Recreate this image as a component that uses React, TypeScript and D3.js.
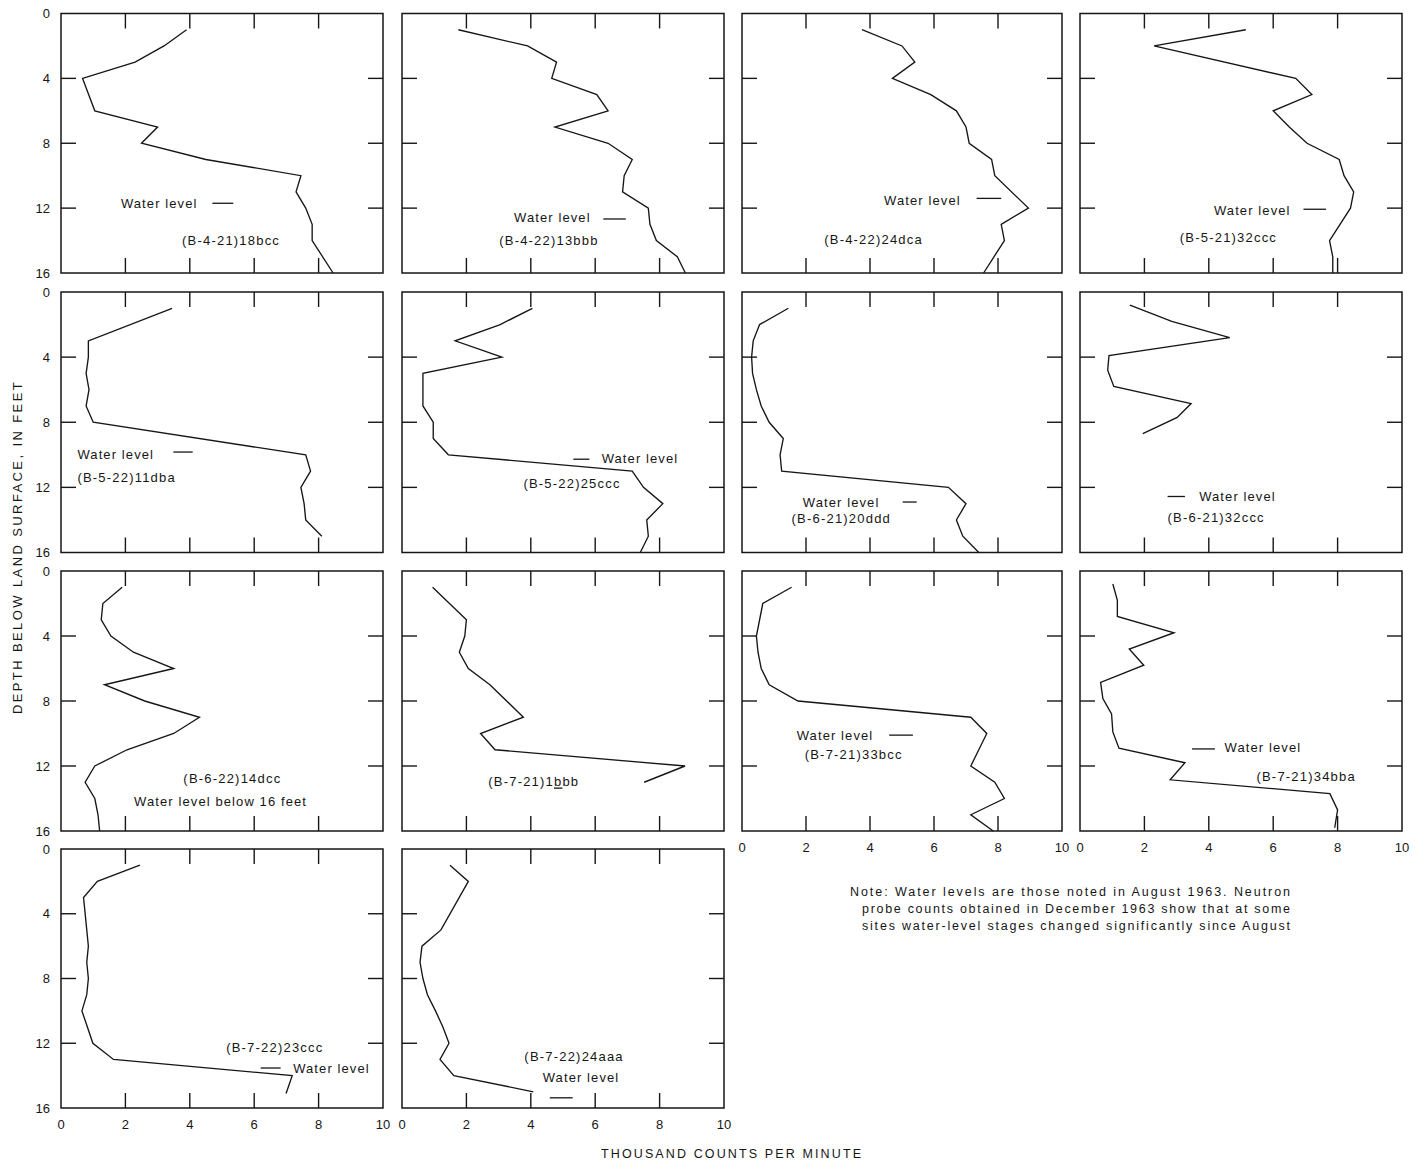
import React from "react";
import * as d3 from "d3";

// ---------- DATA (depth in feet, thousand counts per minute) ----------
const siteNames = [
  "(B-4-21)18bcc", "(B-4-22)13bbb", "(B-4-22)24dca", "(B-5-21)32ccc",
  "(B-5-22)11dba", "(B-5-22)25ccc", "(B-6-21)20ddd", "(B-6-21)32ccc",
  "(B-6-22)14dcc", "(B-7-21)1bbb", "(B-7-21)33bcc", "(B-7-21)34bba",
  "(B-7-22)23ccc", "(B-7-22)24aaa",
];

const depthP1 = [1, 2, 3, 4, 6, 7, 8, 9, 10, 11, 12, 13, 14, 16];
const countsP1 = [3.9, 3.2, 2.3, 0.67, 1.05, 3.0, 2.5, 4.5, 7.45, 7.3, 7.6, 7.8, 7.8, 8.45];

const depthP2 = [1, 2, 3, 4, 5, 6, 7, 8, 9, 10, 11, 12, 13, 14, 15, 16];
const countsP2 = [1.75, 3.9, 4.8, 4.65, 6.05, 6.4, 4.75, 6.4, 7.15, 6.9, 6.85, 7.65, 7.7, 7.9, 8.55, 8.8];

const depthP3 = [1, 2, 3, 4, 5, 6, 7, 8, 9, 10, 12, 13, 14, 16];
const countsP3 = [3.75, 5.0, 5.4, 4.7, 5.9, 6.7, 7.0, 7.1, 7.8, 7.9, 8.95, 8.1, 8.2, 7.55];

const depthP4 = [1, 2, 4, 5, 6, 7, 8, 9, 10, 11, 12, 14, 15, 16];
const countsP4 = [5.15, 2.3, 6.7, 7.2, 6.0, 6.5, 7.05, 8.05, 8.2, 8.5, 8.4, 7.75, 7.85, 7.85];

const depthP5 = [1, 3, 4, 5, 6, 7, 8, 10, 11, 12, 13, 14, 15];
const countsP5 = [3.45, 0.85, 0.85, 0.78, 0.87, 0.78, 1.0, 7.6, 7.75, 7.45, 7.55, 7.6, 8.1];

const depthP6 = [1, 2, 3, 4, 5, 6, 7, 8, 9, 10, 11, 12, 13, 14, 15, 16];
const countsP6 = [4.05, 3.05, 1.65, 3.1, 0.65, 0.65, 0.65, 0.97, 0.97, 1.44, 7.15, 7.5, 8.1, 7.6, 7.65, 7.4];

const depthP7 = [1, 2, 3, 4, 5, 6, 7, 8, 9, 10, 11, 12, 13, 14, 15, 16];
const countsP7 = [1.45, 0.55, 0.35, 0.3, 0.33, 0.45, 0.6, 0.85, 1.29, 1.19, 1.24, 6.45, 7.0, 6.7, 6.9, 7.4];

const depthP8 = [0.8, 1.8, 2.8, 3.9, 4.8, 5.8, 6.85, 7.7, 8.7];
const countsP8 = [1.55, 2.85, 4.65, 0.9, 0.86, 1.05, 3.45, 3.02, 1.95];

const depthP9 = [1, 2, 3, 4, 5, 6, 7, 8, 9, 10, 11, 12, 13, 14, 15, 16];
const countsP9 = [1.9, 1.3, 1.25, 1.55, 2.25, 3.5, 1.35, 2.6, 4.3, 3.5, 2.05, 1.05, 0.75, 1.05, 1.15, 1.2];

const depthP10 = [1, 3, 4, 5, 6, 7, 9, 10, 11, 12, 13];
const countsP10 = [0.95, 2.0, 1.95, 1.78, 2.06, 2.73, 3.77, 2.44, 2.89, 8.79, 7.52];

const depthP11 = [1, 2, 3, 4, 5, 6, 7, 8, 9, 10, 11, 12, 13, 14, 15, 16];
const countsP11 = [1.55, 0.65, 0.55, 0.45, 0.5, 0.6, 0.85, 1.75, 7.15, 7.65, 7.4, 7.15, 7.9, 8.2, 7.15, 7.85];

const depthP12 = [0.8, 1.8, 2.8, 3.8, 4.8, 5.8, 6.85, 7.85, 8.8, 9.9, 10.9, 11.8, 12.85, 13.7, 14.7, 15.8];
const countsP12 = [1.02, 1.16, 1.16, 2.92, 1.53, 1.98, 0.64, 0.71, 0.98, 1.02, 1.21, 3.26, 2.8, 7.76, 8.0, 7.91];

const depthP13 = [1, 2, 3, 4, 5, 6, 7, 8, 9, 10, 12, 13, 14, 15.1];
const countsP13 = [2.45, 1.13, 0.7, 0.75, 0.8, 0.85, 0.8, 0.85, 0.8, 0.65, 0.99, 1.63, 7.18, 6.99];

const depthP14 = [1, 2, 5, 6, 7, 8, 9, 10, 11, 12, 13, 14, 15];
const countsP14 = [1.49, 2.06, 1.21, 0.62, 0.56, 0.65, 0.79, 1.04, 1.27, 1.46, 1.18, 1.61, 4.08];

// water level (feet below land surface); null = not shown in panel
const waterLevels = [11.7, 12.67, 11.4, 12.07, 9.83, 10.27, 12.9, 12.56, null, null, 10.1, 10.95, 13.53, 15.37];

const xTickValues = [0, 2, 4, 6, 8, 10];
const xTickLabels = ["0", "2", "4", "6", "8", "10"];
const depthTickValues = [0, 4, 8, 12, 16];
const depthTickLabels = ["0", "4", "8", "12", "16"];

const yTitle = "DEPTH BELOW LAND SURFACE, IN FEET";
const xTitle = "THOUSAND COUNTS PER MINUTE";
const noteLines = [
  "Note:  Water levels are those noted in August 1963.  Neutron",
  "probe counts obtained in December 1963 show that at some",
  "sites water-level stages changed significantly since August",
];

// ---------- LAYOUT ----------
const colX: [number, number][] = [[61, 383], [402, 724], [742, 1062], [1080, 1402]];
const rowY: [number, number][] = [[13.5, 273], [292, 552.5], [571, 831], [849, 1108]];

type Panel = {
  depths: number[];
  counts: number[];
  col: number;
  row: number;
  marker?: [number, number];
  waterText?: { x: number; d: number; text: string };
  siteText: { x: number; d: number };
  showX?: boolean;
};

const WL = "Water level";
const panels: Panel[] = [
  { depths: depthP1, counts: countsP1, col: 0, row: 0, marker: [4.7, 5.35], waterText: { x: 1.86, d: 12.02, text: WL }, siteText: { x: 3.76, d: 14.27 } },
  { depths: depthP2, counts: countsP2, col: 1, row: 0, marker: [6.25, 6.95], waterText: { x: 3.48, d: 12.85, text: WL }, siteText: { x: 3.02, d: 14.27 } },
  { depths: depthP3, counts: countsP3, col: 2, row: 0, marker: [7.33, 8.1], waterText: { x: 4.44, d: 11.78, text: WL }, siteText: { x: 2.57, d: 14.24 } },
  { depths: depthP4, counts: countsP4, col: 3, row: 0, marker: [6.94, 7.64], waterText: { x: 4.16, d: 12.45, text: WL }, siteText: { x: 3.1, d: 14.09 } },
  { depths: depthP5, counts: countsP5, col: 0, row: 1, marker: [3.49, 4.09], waterText: { x: 0.51, d: 10.28, text: WL }, siteText: { x: 0.51, d: 11.7 } },
  { depths: depthP6, counts: countsP6, col: 1, row: 1, marker: [5.32, 5.82], waterText: { x: 6.2, d: 10.5, text: WL }, siteText: { x: 3.77, d: 12.01 } },
  { depths: depthP7, counts: countsP7, col: 2, row: 1, marker: [5.02, 5.46], waterText: { x: 1.9, d: 13.2, text: WL }, siteText: { x: 1.55, d: 14.19 } },
  { depths: depthP8, counts: countsP8, col: 3, row: 1, marker: [2.72, 3.26], waterText: { x: 3.7, d: 12.83, text: WL }, siteText: { x: 2.72, d: 14.13 } },
  { depths: depthP9, counts: countsP9, col: 0, row: 2, waterText: { x: 2.27, d: 14.44, text: "Water level below 16 feet" }, siteText: { x: 3.8, d: 13.05 } },
  { depths: depthP10, counts: countsP10, col: 1, row: 2, siteText: { x: 2.68, d: 13.26 } },
  { depths: depthP11, counts: countsP11, col: 2, row: 2, marker: [4.6, 5.34], waterText: { x: 1.71, d: 10.37, text: WL }, siteText: { x: 1.96, d: 11.55 }, showX: true },
  { depths: depthP12, counts: countsP12, col: 3, row: 2, marker: [3.48, 4.19], waterText: { x: 4.49, d: 11.13, text: WL }, siteText: { x: 5.48, d: 12.92 }, showX: true },
  { depths: depthP13, counts: countsP13, col: 0, row: 3, marker: [6.2, 6.82], waterText: { x: 7.21, d: 13.82, text: WL }, siteText: { x: 5.13, d: 12.55 }, showX: true },
  { depths: depthP14, counts: countsP14, col: 1, row: 3, marker: [4.59, 5.3], waterText: { x: 4.37, d: 14.38, text: WL }, siteText: { x: 3.8, d: 13.1 }, showX: true },
];

const FONT = "'Liberation Sans', Arial, Helvetica, sans-serif";
const INK = "#161616";
const TICK = 15;

function SiteLabel({ name, x, y }: { name: string; x: number; y: number }) {
  if (name === "(B-7-21)1bbb") {
    return (
      <text x={x} y={y} fontSize={13} fill={INK} style={{ letterSpacing: "1.2px" }}>
        {"(B-7-21)1"}
        <tspan textDecoration="underline">b</tspan>
        {"bb"}
      </text>
    );
  }
  return (
    <text x={x} y={y} fontSize={13} fill={INK} style={{ letterSpacing: "1.2px" }}>
      {name}
    </text>
  );
}

function PanelView({ p, i }: { p: Panel; i: number }) {
  const [x0, x1] = colX[p.col];
  const [y0, y1] = rowY[p.row];
  const x = d3.scaleLinear().domain([0, 10]).range([x0, x1]);
  const y = d3.scaleLinear().domain([0, 16]).range([y0, y1]);
  const pts: [number, number][] = p.depths.map((d, k) => [d, p.counts[k]]);
  const line = d3
    .line<[number, number]>()
    .x((d) => x(d[1]))
    .y((d) => y(d[0]));
  const wl = waterLevels[i];
  const innerX = xTickValues.filter((v) => v > 0 && v < 10);
  const innerY = depthTickValues.filter((v) => v > 0 && v < 16);
  return (
    <g>
      <rect x={x0} y={y0} width={x1 - x0} height={y1 - y0} fill="none" stroke={INK} strokeWidth={1.5} />
      {innerX.map((v) => (
        <g key={"xt" + v}>
          <line x1={x(v)} x2={x(v)} y1={y0} y2={y0 + TICK} stroke={INK} strokeWidth={1.4} />
          <line x1={x(v)} x2={x(v)} y1={y1} y2={y1 - TICK} stroke={INK} strokeWidth={1.4} />
        </g>
      ))}
      {innerY.map((v) => (
        <g key={"yt" + v}>
          <line x1={x0} x2={x0 + TICK} y1={y(v)} y2={y(v)} stroke={INK} strokeWidth={1.4} />
          <line x1={x1} x2={x1 - TICK} y1={y(v)} y2={y(v)} stroke={INK} strokeWidth={1.4} />
        </g>
      ))}
      <path d={line(pts) || ""} fill="none" stroke={INK} strokeWidth={1.35} strokeLinejoin="miter" />
      {wl !== null && p.marker && (
        <line x1={x(p.marker[0])} x2={x(p.marker[1])} y1={y(wl)} y2={y(wl)} stroke={INK} strokeWidth={1.3} />
      )}
      {p.waterText && (
        <text x={x(p.waterText.x)} y={y(p.waterText.d)} fontSize={13} fill={INK} style={{ letterSpacing: "1.1px" }}>
          {p.waterText.text}
        </text>
      )}
      <SiteLabel name={siteNames[i]} x={x(p.siteText.x)} y={y(p.siteText.d)} />
      {p.col === 0 &&
        depthTickValues.map((v, k) => (
          <text key={"yl" + v} x={x0 - 11} y={y(v)} dy="0.36em" textAnchor="end" fontSize={13} fill={INK}>
            {depthTickLabels[k]}
          </text>
        ))}
      {p.showX &&
        xTickValues.map((v, k) => (
          <text key={"xl" + v} x={x(v)} y={y1 + 21} textAnchor="middle" fontSize={13} fill={INK}>
            {xTickLabels[k]}
          </text>
        ))}
    </g>
  );
}

export default function App() {
  return (
    <svg
      width={1422}
      height={1162}
      viewBox="0 0 1422 1162"
      style={{ position: "absolute", left: 0, top: 0, background: "#fff", fontFamily: FONT }}
    >
      <rect x={0} y={0} width={1422} height={1162} fill="#fff" />
      {panels.map((p, i) => (
        <PanelView key={i} p={p} i={i} />
      ))}
      <text
        transform="translate(22,547) rotate(-90)"
        textAnchor="middle"
        fontSize={13}
        fill={INK}
        style={{ letterSpacing: "2.4px" }}
      >
        {yTitle}
      </text>
      <text x={731} y={1158} textAnchor="middle" fontSize={12.5} fill={INK} textLength={260} lengthAdjust="spacing">
        {xTitle}
      </text>
      <text x={850} y={896} fontSize={12.5} fill={INK} textLength={440} lengthAdjust="spacing">
        {noteLines[0]}
      </text>
      <text x={862} y={913} fontSize={12.5} fill={INK} textLength={428} lengthAdjust="spacing">
        {noteLines[1]}
      </text>
      <text x={862} y={930} fontSize={12.5} fill={INK} textLength={428} lengthAdjust="spacing">
        {noteLines[2]}
      </text>
    </svg>
  );
}
